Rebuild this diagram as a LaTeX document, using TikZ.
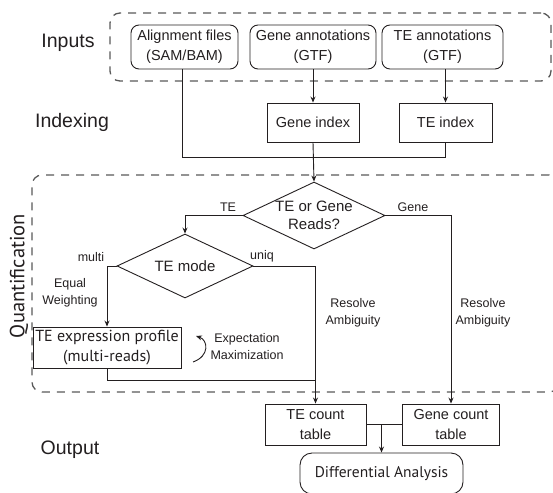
\documentclass[tikz,border=0pt]{standalone}
\usepackage{fontspec}
\setmainfont{Liberation Sans}
\newfontfamily\myr{PT Sans}
\usetikzlibrary{shapes.geometric,arrows.meta}
\definecolor{ink}{HTML}{231F20}
\tikzset{
  ln/.style={line width=0.9pt, draw=ink},
  arr/.style={ln, -{Stealth[length=6pt,width=5pt]}},
  dbox/.style={draw=black!65, line width=1.3pt, dash pattern=on 8pt off 7pt, rounded corners=10pt, inner sep=0},
  rbox/.style={draw=ink, line width=0.9pt, rounded corners=8pt, align=center, inner sep=0, text=ink, font=\fontsize{14.5}{20}\selectfont},
  sbox/.style={draw=ink, line width=0.9pt, align=center, inner sep=0, text=ink, font=\fontsize{14.5}{20}\selectfont},
  dia/.style={diamond, draw=ink, line width=0.9pt, inner sep=0},
  dtext/.style={align=center, text=ink, font=\fontsize{15}{18}\selectfont},
  lab/.style={align=center, text=ink, font=\fontsize{12.5}{17}\selectfont},
  big/.style={text=ink, font=\fontsize{19.5}{22}\selectfont},
}
\begin{document}
\begin{tikzpicture}[x=1pt,y=-1pt]
\useasboundingbox (0,0) rectangle (553,492);
% dashed group boxes
\node[dbox, minimum width=441pt, minimum height=68pt] (inbox) at (330.5,47) {};
\node[dbox, minimum width=527pt, minimum height=217pt] (qbox) at (295.5,283.5) {};
% side labels
\node[big] (linputs) at (68,43) {Inputs};
\node[big] (lindex) at (72,122) {Indexing};
\node[big] (loutput) at (70,450) {Output};
\node[big, rotate=90, font=\myr\fontsize{20.5}{22}\selectfont] (lquant) at (19,276) {Quantification};
% inputs
\node[rbox, minimum width=107pt, minimum height=44pt] (align) at (184.5,47) {Alignment files\\(SAM/BAM)};
\node[rbox, minimum width=126pt, minimum height=44pt] (geneann) at (313,47) {Gene annotations\\(GTF)};
\node[rbox, minimum width=121pt, minimum height=44pt] (teann) at (442.5,47) {TE annotations\\(GTF)};
% indexing
\node[sbox, minimum width=92pt, minimum height=39pt] (geneidx) at (313,122.5) {Gene index};
\node[sbox, minimum width=93pt, minimum height=39pt] (teidx) at (445.5,122.5) {TE index};
\coordinate (j1) at (182,157);
% diamonds
\node[dia, minimum width=142pt, minimum height=67pt] (d1) at (314,215.5) {};
\node[dtext] (d1t) at (d1) {TE or Gene\\Reads?};
\node[dia, minimum width=136pt, minimum height=64pt] (d2) at (185,266) {};
\node[dtext] (d2t) at (d2) {TE mode};
% boxes
\node[sbox, minimum width=148pt, minimum height=41pt, font=\myr\fontsize{16}{20}\selectfont] (teexp) at (107,347.5) {TE expression profile\\(multi-reads)};
\node[sbox, minimum width=101pt, minimum height=41pt] (tecnt) at (315.5,424.5) {TE count\\table};
\node[sbox, minimum width=97pt, minimum height=41pt] (genecnt) at (451,424.5) {Gene count\\table};
\node[rbox, rounded corners=12pt, minimum width=163pt, minimum height=41pt, font=\myr\fontsize{15.5}{18}\selectfont] (diff) at (381.5,473.5) {Differential Analysis};
\coordinate (j2) at (107,380);
% labels
\node[lab] (lte) at (228,207) {TE};
\node[lab] (lgene) at (413,207) {Gene};
\node[lab] (lmulti) at (91,257) {multi};
\node[lab] (luniq) at (262,256) {uniq};
\node[lab] (lew) at (70,293) {Equal\\Weighting};
\node[lab] (lra1) at (353,313) {Resolve\\Ambiguity};
\node[lab] (lra2) at (483,313) {Resolve\\Ambiguity};
\node[lab, font=\fontsize{12.5}{17}\selectfont] (lem) at (247,346.5) {Expectation\\Maximization};
\coordinate (c1) at (193,362);
\coordinate (c2) at (196,336);
% connectors
\draw[arr] (geneann.south) -- (geneidx.north);
\draw[arr] (teann.south -| teidx.north) -- (teidx.north);
\draw[ln] (align.south -| j1) -- (j1) -- (teidx.south |- j1) -- (teidx.south);
\draw[arr] (geneidx.south) -- (d1.north);
\draw[arr] (d1.west) -| (d2.north);
\draw[arr] (d1.east) -| (genecnt.north);
\draw[arr] (d2.west) -| (teexp.north);
\draw[arr] (d2.east) -| (tecnt.north);
\draw[ln] (teexp.south) -- (j2) -- (tecnt.north |- j2);
\draw[ln] (tecnt.east) -- (genecnt.west);
\draw[arr] (tecnt.east -| diff.north) -- (diff.north);
\draw[arr] (c1) .. controls (210,356) and (208,340) .. (c2);
\end{tikzpicture}
\end{document}
